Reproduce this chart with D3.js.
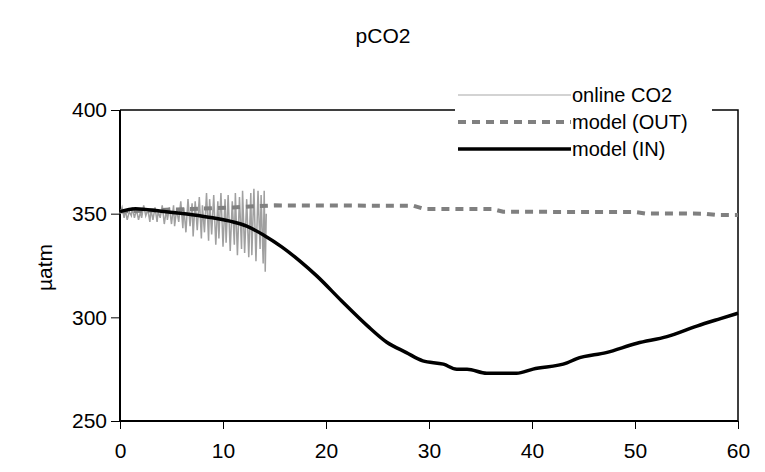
<!DOCTYPE html>
<html>
<head>
<meta charset="utf-8">
<script src="https://cdn.jsdelivr.net/npm/d3@7"></script>
<style>
  body { margin: 0; background: #fff; }
  svg { font-family: "Liberation Sans", Arial, sans-serif; }
</style>
</head>
<body>
<svg></svg>
<script>
// Tick values
const xTicks = [0, 10, 20, 30, 40, 50, 60];
const yTicks = [250, 300, 350, 400];

// online CO2 measurements [day, µatm]
const onlineCO2 = [
  [0.0, 350], [0.2, 353], [0.4, 348], [0.5, 352], [0.7, 347], [0.9, 351], [1.1, 349],
  [1.2, 353], [1.4, 348], [1.6, 352], [1.8, 347], [2.0, 351], [2.1, 348], [2.3, 354],
  [2.5, 349], [2.7, 352], [2.9, 346], [3.0, 352], [3.2, 347], [3.4, 353], [3.6, 346],
  [3.7, 351], [3.9, 348], [4.1, 354], [4.3, 345], [4.5, 352], [4.6, 347], [4.8, 353],
  [5.0, 345], [5.2, 354], [5.3, 344], [5.5, 352], [5.7, 346], [5.9, 356], [6.1, 343],
  [6.2, 353], [6.4, 341], [6.6, 357], [6.8, 344], [7.0, 355], [7.1, 339], [7.3, 356],
  [7.5, 342], [7.7, 358], [7.9, 338], [8.0, 354], [8.2, 341], [8.4, 360], [8.6, 337],
  [8.7, 357], [8.9, 340], [9.1, 359], [9.3, 335], [9.5, 356], [9.6, 338], [9.8, 360],
  [10.0, 334], [10.2, 357], [10.3, 336], [10.5, 359], [10.7, 332], [10.9, 356], [11.1, 335],
  [11.2, 360], [11.4, 330], [11.6, 358], [11.8, 333], [11.9, 361], [12.1, 331], [12.3, 357],
  [12.5, 329], [12.7, 360], [12.8, 330], [13.0, 362], [13.2, 327], [13.4, 361], [13.6, 333],
  [13.7, 359], [13.9, 326], [14.0, 361], [14.1, 322], [14.2, 350]
];

// model outside the mesocosm
const modelOut = [
  [0, 351], [3, 351.5], [5, 352], [7, 352.3], [9, 352.6], [11, 353], [13, 353.6],
  [15, 354], [28.5, 353.8], [29.5, 352.3], [36.2, 352.2], [37.2, 350.9], [50, 350.8],
  [51, 350.1], [56.8, 350], [57.8, 349.4], [60, 349.4]
];

// model inside the mesocosm
const modelIn = [
  [0, 351], [1.5, 352.4], [4, 351.2], [7, 349.5], [9, 348], [11, 346], [12.3, 344],
  [14, 339.5], [15.7, 334], [17.5, 327], [19.1, 320], [21.5, 308], [24, 296], [25.9, 288],
  [27.8, 283], [29.4, 279], [31.4, 277.4], [32.7, 275], [33.7, 275], [35.6, 273], [38.5, 273],
  [40.1, 275], [43.4, 278], [44.3, 280], [47.2, 283], [50.2, 287.5], [53.1, 290.7], [56, 295.8],
  [58.3, 299.4], [60, 302]
];

const legendItems = [
  {label: "online CO2", color: "#a8a8a8", width: 1.2, dash: null},
  {label: "model (OUT)", color: "#808080", width: 4, dash: "8,6"},
  {label: "model (IN)", color: "#000", width: 3.5, dash: null}
];

const W = 765, H = 472;
const margin = {top: 110, right: 27, bottom: 51, left: 120},
    width = W - margin.left - margin.right,
    height = H - margin.top - margin.bottom;

const root = d3.select("svg").attr("width", W).attr("height", H);

// title
root.append("text")
    .attr("x", 383).attr("y", 43)
    .attr("text-anchor", "middle")
    .style("font-size", "21px")
    .text("pCO2");

const svg = root.append("g")
    .attr("transform", `translate(${margin.left},${margin.top})`);

const x = d3.scaleLinear().domain([0, 60]).range([0, width]);
const y = d3.scaleLinear().domain([250, 400]).range([height, 0]);

// plot area border (top and right)
svg.append("path")
    .attr("d", `M0,0H${width}V${height}`)
    .attr("fill", "none")
    .attr("stroke", "#000")
    .attr("stroke-width", 1.5);

// axes
const xAxis = svg.append("g")
    .attr("transform", `translate(0,${height})`)
    .call(d3.axisBottom(x).tickValues(xTicks).tickSize(8).tickPadding(14));
const yAxis = svg.append("g")
    .call(d3.axisLeft(y).tickValues(yTicks).tickSize(9).tickPadding(4));

[xAxis, yAxis].forEach(a => {
  a.select(".domain").attr("stroke-width", 2).attr("stroke", "#000");
  a.selectAll(".tick line").attr("stroke", "#000").attr("stroke-width", 1);
  a.selectAll(".tick text")
      .style("font-family", "Liberation Sans, Arial, sans-serif")
      .style("font-size", "21px")
      .attr("fill", "#000");
});
xAxis.select(".domain").attr("d", `M0,0H${width}`);
yAxis.select(".domain").attr("d", `M0,${height}V0`);

// y axis title
svg.append("text")
    .attr("transform", `translate(${-margin.left + 52},${height / 2 + 2}) rotate(-90)`)
    .attr("text-anchor", "middle")
    .style("font-size", "21px")
    .text("µatm");

const line = d3.line().x(d => x(d[0])).y(d => y(d[1]));

svg.append("path")
    .datum(onlineCO2)
    .attr("d", line)
    .attr("fill", "none")
    .attr("stroke", "#a0a0a0")
    .attr("stroke-width", 1.5);

svg.append("path")
    .datum(modelOut)
    .attr("d", line)
    .attr("fill", "none")
    .attr("stroke", "#808080")
    .attr("stroke-width", 4)
    .attr("stroke-dasharray", "8,6");

svg.append("path")
    .datum(modelIn)
    .attr("d", d3.line().x(d => x(d[0])).y(d => y(d[1])).curve(d3.curveMonotoneX))
    .attr("fill", "none")
    .attr("stroke", "#000")
    .attr("stroke-width", 3.5)
    .attr("stroke-linejoin", "round");

// legend (white box over the top border)
const legend = root.append("g").attr("transform", "translate(455,80)");
legend.append("rect")
    .attr("width", 257).attr("height", 88)
    .attr("fill", "#fff");

legendItems.forEach((d, i) => {
  const g = legend.append("g").attr("transform", `translate(0,${15 + i * 27})`);
  g.append("line")
      .attr("x1", 3).attr("x2", 116)
      .attr("stroke", d.color)
      .attr("stroke-width", d.width)
      .attr("stroke-dasharray", d.dash);
  g.append("text")
      .attr("x", 117).attr("y", 7)
      .style("font-size", "20px")
      .text(d.label);
});
</script>
</body>
</html>
